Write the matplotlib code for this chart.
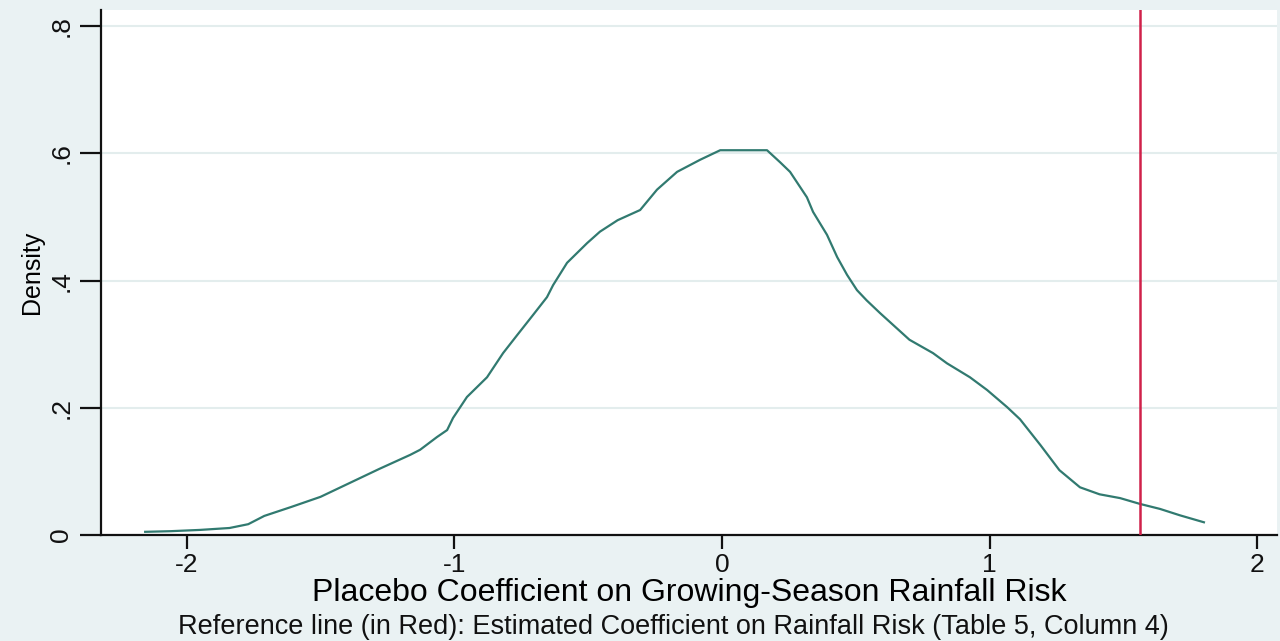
import matplotlib
matplotlib.use("Agg")
import matplotlib.pyplot as plt

# Kernel density of placebo coefficients
coef = [-2.155, -2.06, -1.95, -1.84, -1.77, -1.71, -1.61, -1.50, -1.39, -1.28,
        -1.165, -1.128, -1.065, -1.027, -1.005, -0.953, -0.878, -0.818, -0.766,
        -0.706, -0.654, -0.631, -0.579, -0.504, -0.456, -0.39, -0.306, -0.243,
        -0.168, -0.082, -0.007, 0.105, 0.168, 0.217, 0.254, 0.317, 0.34, 0.392,
        0.43, 0.467, 0.504, 0.54, 0.59, 0.70, 0.788, 0.84, 0.926, 0.99, 1.065,
        1.113, 1.19, 1.26, 1.337, 1.41, 1.487, 1.56, 1.636, 1.71, 1.80]
density = [0.005, 0.006, 0.008, 0.011, 0.017, 0.03, 0.044, 0.06, 0.082, 0.104,
           0.126, 0.134, 0.154, 0.165, 0.184, 0.217, 0.248, 0.286, 0.314,
           0.346, 0.374, 0.393, 0.428, 0.459, 0.477, 0.495, 0.511, 0.543,
           0.571, 0.59, 0.605, 0.605, 0.605, 0.586, 0.571, 0.531, 0.508, 0.472,
           0.437, 0.409, 0.385, 0.369, 0.349, 0.307, 0.286, 0.27, 0.248, 0.228, 0.201,
           0.182, 0.141, 0.102, 0.075, 0.064, 0.058, 0.049, 0.041, 0.031, 0.02]
ref_coef = 1.561

xticks = [-2, -1, 0, 1, 2]
xticklabels = ["-2", "-1", "0", "1", "2"]
yticks = [0, 0.2, 0.4, 0.6, 0.8]
yticklabels = ["0", ".2", ".4", ".6", ".8"]

bg = "#eaf2f3"
plt.rcParams['font.family'] = ['Liberation Sans', 'DejaVu Sans']

fig = plt.figure(figsize=(12.8, 6.41), dpi=100, facecolor=bg)
ax = fig.add_axes([101/1280, 1 - 535/641, (1277-101)/1280, (535-10)/641])
ax.set_facecolor("white")

for y in yticks[1:]:
    ax.axhline(y, color="#e3eded", lw=1.5, zorder=0)

ax.plot(coef, density, color="#317a70", lw=1.6, zorder=2)
ax.axvline(ref_coef, color="#d0214a", lw=1.8, zorder=3)

ax.set_xlim(-2.32, 2.073)
ax.set_ylim(0, 0.8255)

for s in ["top", "right"]:
    ax.spines[s].set_visible(False)
for s in ["left", "bottom"]:
    ax.spines[s].set_linewidth(1.6)
    ax.spines[s].set_color("#111111")

ax.set_xticks(xticks)
ax.set_xticklabels(xticklabels, fontsize=19)
ax.set_yticks(yticks)
ax.set_yticklabels(yticklabels, fontsize=19, rotation=90, va="center")
ax.tick_params(axis="x", length=10, width=1.6, pad=3, colors="#111111")
ax.tick_params(axis="y", length=15, width=1.6, pad=5, colors="#111111")

ax.set_ylabel("Density", fontsize=18, labelpad=4)
ax.set_xlabel("Placebo Coefficient on Growing-Season Rainfall Risk", fontsize=23, labelpad=1)

fig.text(673/1280, 1 - 627/641,
         "Reference line (in Red): Estimated Coefficient on Rainfall Risk (Table 5, Column 4)",
         fontsize=19.5, ha="center", va="center", color="#111111")

fig.savefig("out.png", dpi=100, facecolor=bg)
